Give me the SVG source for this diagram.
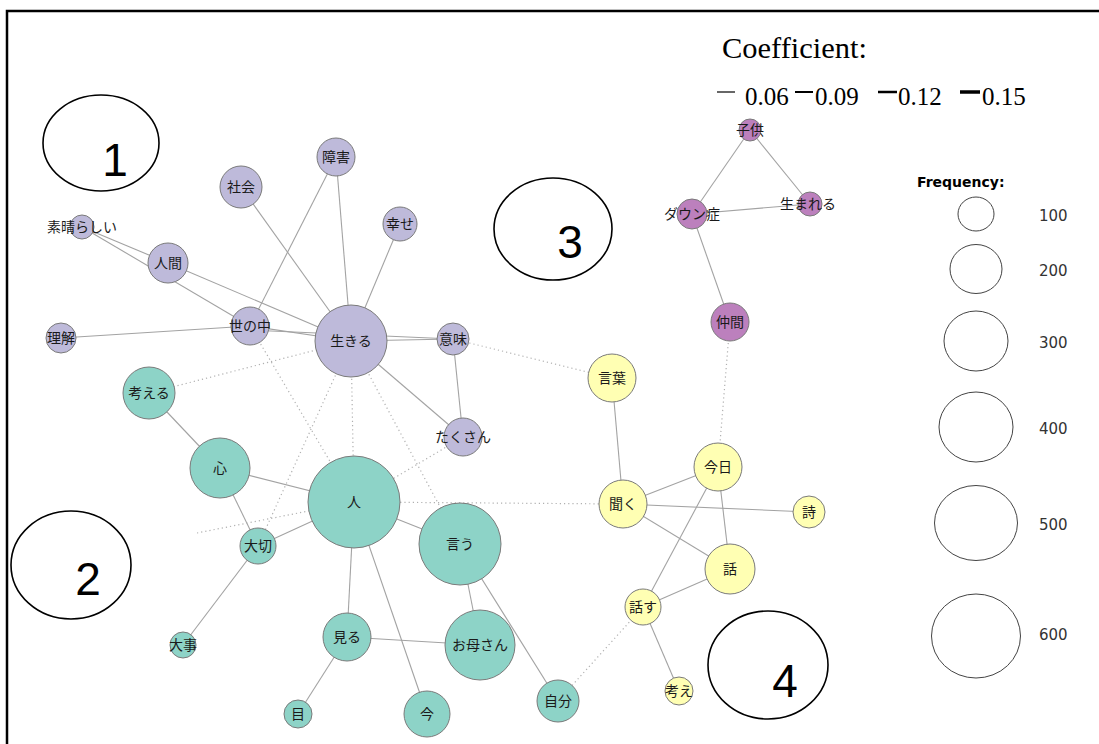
<svg xmlns="http://www.w3.org/2000/svg" width="1099" height="744" viewBox="0 0 1099 744">
<style>
.bg{fill:#ffffff}
.frame{fill:none;stroke:#000;stroke-width:2.5}
.e{stroke:#a3a3a3;stroke-width:1.1;fill:none}
.d{stroke:#b0b0b0;stroke-width:1.2;stroke-dasharray:1.2 3;fill:none}
.n circle{stroke:#7a7a7a;stroke-width:1}
.c1 circle{fill:#bebada}
.c2 circle{fill:#8dd3c7}
.c3 circle{fill:#bc80bd}
.c4 circle{fill:#ffffb3}
.n text{font-family:"Noto Sans CJK JP","DejaVu Sans",sans-serif;font-size:14px;fill:#1a1a1a;text-anchor:middle}
.grp ellipse{fill:none;stroke:#000;stroke-width:1.6}
.grp text{font-family:"Liberation Sans",Arial,sans-serif;font-size:46px;fill:#000;text-anchor:middle}
.leg ellipse{fill:none;stroke:#444;stroke-width:1}
.leg text.v{font-family:"DejaVu Sans",Verdana,sans-serif;font-size:15px;fill:#333}
.coef{font-family:"Liberation Serif","Times New Roman",serif;fill:#000}
</style>
<rect class="bg" x="0" y="0" width="1099" height="744"/>
<path class="frame" d="M7,744 V11 H1099"/>

<g id="connectors">
<!-- cluster 1 -->
<line class="e" x1="241" y1="187" x2="351" y2="341"/>
<line class="e" x1="336" y1="157" x2="351" y2="341"/>
<line class="e" x1="336" y1="157" x2="250" y2="326"/>
<line class="e" x1="400" y1="224" x2="351" y2="341"/>
<line class="e" x1="82" y1="227" x2="168" y2="263"/>
<line class="e" x1="82" y1="227" x2="250" y2="326"/>
<line class="e" x1="168" y1="263" x2="351" y2="341"/>
<line class="e" x1="61" y1="338" x2="250" y2="326"/>
<line class="e" x1="250" y1="326" x2="351" y2="341"/>
<line class="e" x1="250" y1="330" x2="453" y2="339"/>
<line class="e" x1="351" y1="341" x2="453" y2="339"/>
<line class="e" x1="351" y1="341" x2="463" y2="437"/>
<line class="e" x1="453" y1="339" x2="463" y2="437"/>
<!-- cluster 3 -->
<line class="e" x1="750" y1="130" x2="692" y2="214"/>
<line class="e" x1="750" y1="130" x2="810" y2="204"/>
<line class="e" x1="692" y1="214" x2="810" y2="204"/>
<line class="e" x1="692" y1="214" x2="730" y2="322"/>
<!-- cluster 2 -->
<line class="e" x1="149" y1="393" x2="220" y2="468"/>
<line class="e" x1="220" y1="468" x2="354" y2="502"/>
<line class="e" x1="220" y1="468" x2="258" y2="546"/>
<line class="e" x1="354" y1="502" x2="258" y2="546"/>
<line class="e" x1="354" y1="502" x2="460" y2="544"/>
<line class="e" x1="354" y1="502" x2="347" y2="637"/>
<line class="e" x1="354" y1="502" x2="427" y2="714"/>
<line class="e" x1="258" y1="546" x2="183" y2="645"/>
<line class="e" x1="347" y1="637" x2="298" y2="714"/>
<line class="e" x1="347" y1="637" x2="480" y2="645"/>
<line class="e" x1="460" y1="544" x2="480" y2="645"/>
<line class="e" x1="460" y1="544" x2="558" y2="701"/>
<!-- cluster 4 -->
<line class="e" x1="612" y1="378" x2="623" y2="504"/>
<line class="e" x1="623" y1="504" x2="718" y2="467"/>
<line class="e" x1="623" y1="504" x2="809" y2="512"/>
<line class="e" x1="623" y1="504" x2="730" y2="569"/>
<line class="e" x1="718" y1="467" x2="730" y2="569"/>
<line class="e" x1="718" y1="467" x2="643" y2="607"/>
<line class="e" x1="730" y1="569" x2="643" y2="607"/>
<line class="e" x1="643" y1="607" x2="679" y2="691"/>
<!-- dotted (between clusters) -->
<line class="d" x1="149" y1="393" x2="351" y2="341"/>
<line class="d" x1="250" y1="326" x2="354" y2="502"/>
<line class="d" x1="351" y1="341" x2="354" y2="502"/>
<line class="d" x1="351" y1="341" x2="258" y2="546"/>
<line class="d" x1="351" y1="341" x2="460" y2="544"/>
<line class="d" x1="354" y1="502" x2="463" y2="437"/>
<line class="d" x1="197" y1="533" x2="354" y2="502"/>
<line class="d" x1="354" y1="502" x2="623" y2="504"/>
<line class="d" x1="453" y1="339" x2="612" y2="378"/>
<line class="d" x1="730" y1="322" x2="718" y2="467"/>
<line class="d" x1="558" y1="701" x2="643" y2="607"/>
</g>

<g id="n-shougai" class="n c1"><circle cx="336" cy="157" r="19"/><text x="336" y="162">障害</text></g>
<g id="n-shakai" class="n c1"><circle cx="241" cy="187" r="21"/><text x="241" y="192">社会</text></g>
<g id="n-shiawase" class="n c1"><circle cx="400" cy="224" r="17"/><text x="400" y="229">幸せ</text></g>
<g id="n-subarashii" class="n c1"><circle cx="82" cy="227" r="12"/><text x="82" y="232">素晴らしい</text></g>
<g id="n-ningen" class="n c1"><circle cx="168" cy="263" r="20"/><text x="168" y="268">人間</text></g>
<g id="n-yononaka" class="n c1"><circle cx="250" cy="326" r="19"/><text x="250" y="331">世の中</text></g>
<g id="n-rikai" class="n c1"><circle cx="61" cy="338" r="15"/><text x="61" y="343">理解</text></g>
<g id="n-ikiru" class="n c1"><circle cx="351" cy="341" r="36"/><text x="351" y="346">生きる</text></g>
<g id="n-imi" class="n c1"><circle cx="453" cy="339" r="16"/><text x="453" y="344">意味</text></g>
<g id="n-takusan" class="n c1"><circle cx="463" cy="437" r="19"/><text x="463" y="442">たくさん</text></g>

<g id="n-kodomo" class="n c3"><circle cx="750" cy="130" r="11"/><text x="750" y="135">子供</text></g>
<g id="n-down" class="n c3"><circle cx="692" cy="214" r="15"/><text x="692" y="219">ダウン症</text></g>
<g id="n-umareru" class="n c3"><circle cx="810" cy="204" r="12"/><text x="808" y="209">生まれる</text></g>
<g id="n-nakama" class="n c3"><circle cx="730" cy="322" r="19"/><text x="730" y="327">仲間</text></g>

<g id="n-kangaeru" class="n c2"><circle cx="149" cy="393" r="26"/><text x="149" y="398">考える</text></g>
<g id="n-kokoro" class="n c2"><circle cx="220" cy="468" r="30"/><text x="220" y="473">心</text></g>
<g id="n-hito" class="n c2"><circle cx="354" cy="502" r="46"/><text x="354" y="507">人</text></g>
<g id="n-taisetsu" class="n c2"><circle cx="258" cy="546" r="18"/><text x="258" y="551">大切</text></g>
<g id="n-iu" class="n c2"><circle cx="460" cy="544" r="41"/><text x="460" y="549">言う</text></g>
<g id="n-miru" class="n c2"><circle cx="347" cy="637" r="24"/><text x="347" y="642">見る</text></g>
<g id="n-okaasan" class="n c2"><circle cx="480" cy="645" r="35"/><text x="480" y="650">お母さん</text></g>
<g id="n-daiji" class="n c2"><circle cx="183" cy="645" r="13"/><text x="183" y="650">大事</text></g>
<g id="n-me" class="n c2"><circle cx="298" cy="714" r="14"/><text x="298" y="719">目</text></g>
<g id="n-ima" class="n c2"><circle cx="427" cy="714" r="23"/><text x="427" y="719">今</text></g>
<g id="n-jibun" class="n c2"><circle cx="558" cy="701" r="21"/><text x="558" y="706">自分</text></g>

<g id="n-kotoba" class="n c4"><circle cx="612" cy="378" r="24"/><text x="612" y="383">言葉</text></g>
<g id="n-kyou" class="n c4"><circle cx="718" cy="467" r="24"/><text x="718" y="472">今日</text></g>
<g id="n-kiku" class="n c4"><circle cx="623" cy="504" r="24"/><text x="623" y="509">聞く</text></g>
<g id="n-shi" class="n c4"><circle cx="809" cy="512" r="16"/><text x="809" y="517">詩</text></g>
<g id="n-hanashi" class="n c4"><circle cx="730" cy="569" r="25"/><text x="730" y="574">話</text></g>
<g id="n-hanasu" class="n c4"><circle cx="643" cy="607" r="18"/><text x="643" y="612">話す</text></g>
<g id="n-kangae" class="n c4"><circle cx="679" cy="691" r="14"/><text x="679" y="696">考え</text></g>

<g id="groups" class="grp">
<ellipse cx="101" cy="143" rx="58" ry="48"/><text x="115" y="176">1</text>
<ellipse cx="71" cy="565" rx="60" ry="54"/><text x="88" y="595">2</text>
<ellipse cx="553" cy="229" rx="59" ry="51"/><text x="570" y="258">3</text>
<ellipse cx="768" cy="665" rx="60" ry="54"/><text x="785" y="697">4</text>
</g>

<g id="legend-coef">
<text class="coef" x="722" y="58" font-size="29" textLength="145" lengthAdjust="spacingAndGlyphs">Coefficient:</text>
<line x1="717" y1="92" x2="735" y2="92" stroke="#000" stroke-width="1.2"/>
<text class="coef" x="745" y="105" font-size="25">0.06</text>
<line x1="795" y1="92" x2="813" y2="92" stroke="#000" stroke-width="2"/>
<text class="coef" x="815" y="105" font-size="25">0.09</text>
<line x1="878" y1="92" x2="897" y2="92" stroke="#000" stroke-width="2.5"/>
<text class="coef" x="898" y="105" font-size="25">0.12</text>
<line x1="960" y1="92" x2="980" y2="92" stroke="#000" stroke-width="3.5"/>
<text class="coef" x="982" y="105" font-size="25">0.15</text>
</g>

<g id="legend-freq" class="leg">
<text x="917" y="187" font-family="DejaVu Sans,Verdana,sans-serif" font-size="14" font-weight="bold" fill="#000">Frequency:</text>
<ellipse cx="976" cy="214" rx="18" ry="17"/><text class="v" x="1039" y="221">100</text>
<ellipse cx="976" cy="269" rx="26" ry="24.5"/><text class="v" x="1039" y="276">200</text>
<ellipse cx="976" cy="341" rx="32" ry="30"/><text class="v" x="1039" y="348">300</text>
<ellipse cx="976" cy="427" rx="37" ry="35"/><text class="v" x="1039" y="434">400</text>
<ellipse cx="976" cy="523" rx="41.5" ry="37.5"/><text class="v" x="1039" y="530">500</text>
<ellipse cx="976" cy="636" rx="44.5" ry="42"/><text class="v" x="1039" y="640">600</text>
</g>
</svg>
